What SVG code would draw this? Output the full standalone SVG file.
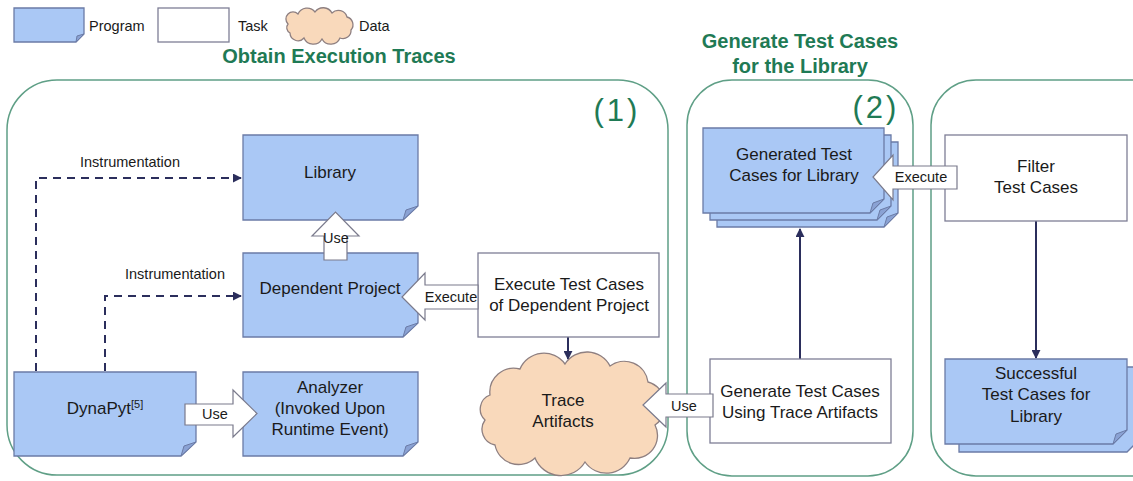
<svg xmlns="http://www.w3.org/2000/svg" width="1133" height="481" viewBox="0 0 1133 481">
<style>
.prog{fill:#aac8f5;stroke:#6b7ba6;stroke-width:1.3}
.fold{fill:#8aa2d4;stroke:#6b7ba6;stroke-width:1}
.task{fill:#ffffff;stroke:#7e7e96;stroke-width:1.3}
.cloud{fill:#f9d9bb;stroke:#8e7f80;stroke-width:1.3}
.panel{fill:none;stroke:#5f9f86;stroke-width:1.5}
.barrow{fill:#ffffff;stroke:#7a7a8c;stroke-width:1.2}
.t{font-family:"Liberation Sans",Arial,sans-serif;fill:#1a1a1a;text-anchor:middle;font-size:17px}
.lbl{font-family:"Liberation Sans",Arial,sans-serif;fill:#1a1a1a;text-anchor:middle;font-size:14.5px}
.leg{font-family:"Liberation Sans",Arial,sans-serif;fill:#1a1a1a;font-size:14.5px}
.title{font-family:"Liberation Sans",Arial,sans-serif;fill:#1f7a55;text-anchor:middle;font-size:20px;font-weight:bold}
.num{font-family:"Liberation Sans",Arial,sans-serif;fill:#1f7a55;text-anchor:middle;font-size:31px;letter-spacing:3px}
.solid{fill:none;stroke:#2b2e5c;stroke-width:2}
.dash{fill:none;stroke:#2b2e5c;stroke-width:2;stroke-dasharray:8,6}
</style>
<defs>
<marker id="ah" viewBox="0 0 10 10" refX="9" refY="5" markerWidth="4.5" markerHeight="4.5" orient="auto" markerUnits="strokeWidth">
<path d="M0,0 L10,5 L0,10 Z" fill="#2b2e5c"/>
</marker>
</defs>
<rect width="1133" height="481" fill="#ffffff"/>

<!-- legend -->
<g id="legend">
<path class="prog" d="M14 8 H84 V34 L76 42 H14 Z"/>
<path class="fold" d="M84 34 L76 42 L77 36 Z"/>
<text class="leg" x="89" y="31">Program</text>
<rect class="task" x="158" y="8" width="71" height="34"/>
<text class="leg" x="238" y="31">Task</text>
<path class="cloud" d="M288 24 A7 7 0 0 1 298 14 A10 10 0 0 1 315 12 A10 10 0 0 1 332 13 A9 9 0 0 1 347 17 A8 8 0 0 1 351 30 A8 8 0 0 1 340 38 A10 10 0 0 1 322 39 A10 10 0 0 1 304 38 A8 8 0 0 1 290 33 A6 6 0 0 1 288 24 Z"/>
<text class="leg" x="359" y="31">Data</text>
</g>

<!-- titles and panels -->
<g id="panels">
<text class="title" x="339" y="63">Obtain Execution Traces</text>
<text class="title" x="800" y="48">Generate Test Cases</text>
<text class="title" x="800" y="73">for the Library</text>
<rect class="panel" x="7" y="80" width="661" height="395" rx="50" ry="50"/>
<rect class="panel" x="687" y="80" width="226" height="396" rx="45" ry="45"/>
<rect class="panel" x="931" y="80" width="260" height="396" rx="45" ry="45"/>
<text class="num" x="617" y="121">(1)</text>
<text class="num" x="876" y="118">(2)</text>
</g>

<!-- connectors -->
<g id="connectors">
<path class="dash" d="M36 371 V178 H241" marker-end="url(#ah)"/>
<path class="dash" d="M105 371 V296 H241" marker-end="url(#ah)"/>
<text class="lbl" x="130" y="167">Instrumentation</text>
<text class="lbl" x="175" y="279">Instrumentation</text>
<path class="solid" d="M568 337 V359" marker-end="url(#ah)"/>
<path class="solid" d="M800 359 V229" marker-end="url(#ah)"/>
<path class="solid" d="M1036 221 V358" marker-end="url(#ah)"/>
</g>

<!-- nodes -->
<g id="library">
<path class="prog" d="M243 135 H418 V206 L403 220 H243 Z"/>
<path class="fold" d="M418 206 L403 220 L406 210 Z"/>
<text class="t" x="330" y="178">Library</text>
</g>
<g id="dependent-project">
<path class="prog" d="M243 253 H418 V323 L403 337 H243 Z"/>
<path class="fold" d="M418 323 L403 337 L406 327 Z"/>
<text class="t" x="330" y="294">Dependent Project</text>
</g>
<g id="dynapyt">
<path class="prog" d="M14 372 H196 V442 L181 456 H14 Z"/>
<path class="fold" d="M196 442 L181 456 L184 446 Z"/>
<text class="t" x="105" y="414">DynaPyt<tspan font-size="11px" dy="-6">[5]</tspan></text>
</g>
<g id="analyzer">
<path class="prog" d="M243 372 H418 V442 L403 456 H243 Z"/>
<path class="fold" d="M418 442 L403 456 L406 446 Z"/>
<text class="t" x="330" y="393">Analyzer</text>
<text class="t" x="330" y="414">(Invoked Upon</text>
<text class="t" x="330" y="435">Runtime Event)</text>
</g>
<g id="execute-test-cases">
<rect class="task" x="478" y="253" width="181" height="84"/>
<text class="t" x="569" y="290">Execute Test Cases</text>
<text class="t" x="569" y="311">of Dependent Project</text>
</g>
<g id="trace-artifacts">
<path class="cloud" d="M490 395 A24 24 0 0 1 520 369 A26 26 0 0 1 565 364 A26 26 0 0 1 610 366 A24 24 0 0 1 648 382 A24 24 0 0 1 655 425 A23 23 0 0 1 630 458 A26 26 0 0 1 585 462 A28 28 0 0 1 535 458 A24 24 0 0 1 495 445 A16 16 0 0 1 485 420 A15 15 0 0 1 490 395 Z"/>
<text class="t" x="563" y="406">Trace</text>
<text class="t" x="563" y="427">Artifacts</text>
</g>
<g id="generate-test-cases">
<rect class="task" x="710" y="359" width="181" height="84"/>
<text class="t" x="800" y="397">Generate Test Cases</text>
<text class="t" x="800" y="418">Using Trace Artifacts</text>
</g>
<g id="generated-test-cases">
<path class="prog" d="M717 142 H898 V213 L884 227 H717 Z"/>
<path class="fold" d="M898 213 L884 227 L887 217 Z"/>
<path class="prog" d="M710 135 H891 V206 L877 220 H710 Z"/>
<path class="fold" d="M891 206 L877 220 L880 210 Z"/>
<path class="prog" d="M703 128 H884 V199 L870 213 H703 Z"/>
<path class="fold" d="M884 199 L870 213 L873 203 Z"/>
<text class="t" x="794" y="160">Generated Test</text>
<text class="t" x="794" y="181">Cases for Library</text>
</g>
<g id="filter-test-cases">
<rect class="task" x="945" y="135" width="182" height="86"/>
<text class="t" x="1036" y="172">Filter</text>
<text class="t" x="1036" y="193">Test Cases</text>
</g>
<g id="successful-test-cases">
<path class="prog" d="M959 367 H1141 V438 L1127 452 H959 Z"/>
<path class="prog" d="M945 359 H1127 V430 L1113 444 H945 Z"/>
<path class="fold" d="M1127 430 L1113 444 L1116 434 Z"/>
<text class="t" x="1036" y="379">Successful</text>
<text class="t" x="1036" y="400">Test Cases for</text>
<text class="t" x="1036" y="422">Library</text>
</g>

<!-- block arrows -->
<g id="block-arrows">
<polygon class="barrow" points="324,260 324,236 312,236 335.5,212 359,236 347,236 347,260"/>
<text class="lbl" x="336" y="243">Use</text>
<polygon class="barrow" points="478,285 425,285 425,273 402,297 425,320 425,309 478,309"/>
<text class="lbl" x="451" y="302">Execute</text>
<polygon class="barrow" points="185,404 233,404 233,390 257,413.5 233,437 233,425 185,425"/>
<text class="lbl" x="215" y="419">Use</text>
<polygon class="barrow" points="713,394 666,394 666,383 643,405 666,427 666,417 713,417"/>
<text class="lbl" x="684" y="411">Use</text>
<polygon class="barrow" points="957,166 893,166 893,155 873,177 893,200 893,189 957,189"/>
<text class="lbl" x="921" y="182">Execute</text>
</g>
</svg>
